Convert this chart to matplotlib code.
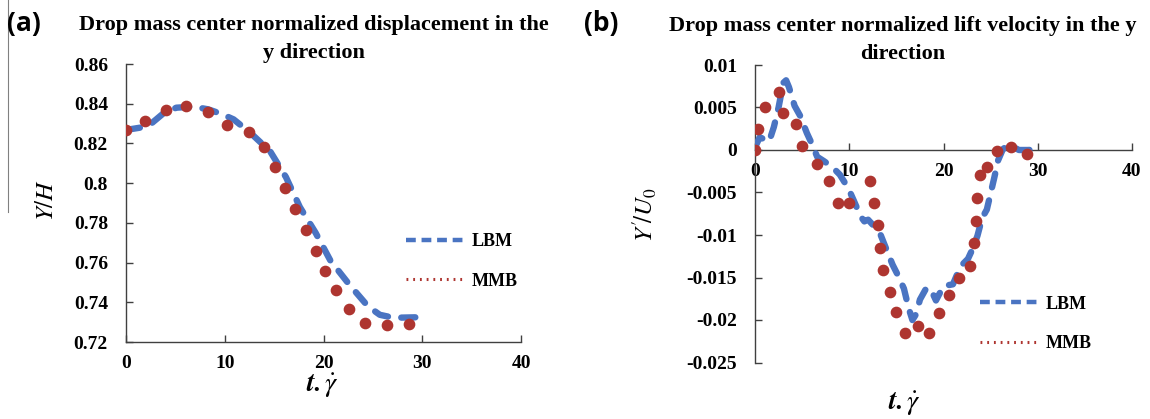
import matplotlib
matplotlib.use("Agg")
import matplotlib.pyplot as plt
from matplotlib.ticker import FormatStrFormatter
from matplotlib.lines import Line2D

plt.rcParams['axes.unicode_minus'] = False
plt.rcParams['mathtext.fontset'] = 'stix'

# ---------------- data ----------------
# Panel (a): normalized displacement Y/H
a_lbm_t = [0, 1.5, 2.6, 3.8, 5.1, 6.8, 8.3, 9.7, 10.9, 12.6, 14.6, 16.2, 17.6, 19.2, 20.7, 22.6, 24.5, 25.7, 27.1, 30]
a_lbm_y = [0.8268, 0.828, 0.8302, 0.8352, 0.838, 0.8385, 0.8372, 0.8348, 0.8321, 0.8253, 0.816, 0.803, 0.788, 0.775,
           0.761, 0.749, 0.738, 0.7337, 0.7322, 0.7325]
a_mmb_t = [0, 1.9, 4.0, 6.1, 8.3, 10.2, 12.5, 14.0, 15.1, 16.1, 17.1, 18.2, 19.2, 20.2, 21.3, 22.6, 24.2, 26.4, 28.7]
a_mmb_y = [0.827, 0.8315, 0.837, 0.8386, 0.836, 0.8293, 0.826, 0.818, 0.808, 0.7975, 0.787, 0.7766, 0.766, 0.756,
           0.746, 0.7365, 0.7295, 0.7285, 0.729]

# Panel (b): normalized lift velocity Y'/U0
b_lbm_t = [0, 0.5, 1.5, 2.0, 2.5, 3.0, 3.3, 3.6, 4.2, 4.8, 5.5, 6.0, 6.6, 7.3, 8.2, 9.0, 9.9, 10.5, 11.2, 11.6,
           12.0, 12.5, 13.3, 13.8, 14.6, 15.1, 15.8, 16.3, 16.7, 17.1, 17.5, 18.2, 18.7, 19.2, 20.0, 21.0, 21.8,
           22.6, 23.1, 23.6, 24.1, 24.6, 25.0, 25.4, 25.8, 26.3, 26.9, 27.5, 28.0, 29.0, 30.0]
b_lbm_y = [0.0003, 0.0015, 0.001, 0.0027, 0.005, 0.0079, 0.0082, 0.0074, 0.0052, 0.004, 0.002, 0.0008, -0.0008,
           -0.0013, -0.002, -0.0029, -0.0045, -0.006, -0.0078, -0.0084, -0.0082, -0.0088, -0.0099, -0.0113,
           -0.0135, -0.0146, -0.0163, -0.0186, -0.0200, -0.0193, -0.0176, -0.0162, -0.0165, -0.0177, -0.016,
           -0.0158, -0.0137, -0.0128, -0.0116, -0.0101, -0.008, -0.007, -0.0051, -0.0032, -0.0012, 0.0001,
           0.0006, 0.0003, 0.0, 0.0, 0.0001]
b_mmb_t = [0, 0.35, 1.06, 2.5, 3.0, 4.4, 5.0, 6.6, 7.9, 8.8, 10.0, 12.2, 12.6, 13.0, 13.3, 13.6, 14.3, 15.0, 15.9,
           17.3, 18.5, 19.5, 20.6, 21.6, 22.8, 23.2, 23.4, 23.6, 23.9, 24.6, 25.7, 27.2, 28.9]
b_mmb_y = [0.0, 0.0025, 0.005, 0.0068, 0.0043, 0.0031, 0.0005, -0.0016, -0.0037, -0.0062, -0.0062, -0.0036,
           -0.0062, -0.0088, -0.0115, -0.0141, -0.0167, -0.0191, -0.0215, -0.0207, -0.0215, -0.0192, -0.0170,
           -0.0150, -0.0137, -0.0109, -0.0083, -0.0057, -0.0030, -0.0020, -0.0001, 0.0003, -0.0005]

x_ticks = [0, 10, 20, 30, 40]
a_y_ticks = [0.72, 0.74, 0.76, 0.78, 0.80, 0.82, 0.84, 0.86]
b_y_ticks = [-0.025, -0.02, -0.015, -0.01, -0.005, 0, 0.005, 0.01]

series_names = ["LBM", "MMB"]
title_a = ["Drop mass center normalized displacement in the", "y direction"]
title_b = ["Drop mass center normalized lift velocity in the y", "direction"]

# ---------------- style ----------------
W, H = 1150, 419
BLUE = "#4A74C2"
RED = "#AE3530"
SERIF = "Liberation Serif"
TICKFONT = dict(family="Liberation Serif", weight="bold", size=14)

fig = plt.figure(figsize=(W / 100, H / 100), dpi=100)


def fx(px):
    return px / W


def fy(py):
    return 1 - py / H


def style_axes(ax):
    for s in ("top", "right"):
        ax.spines[s].set_visible(False)
    for s in ("left", "bottom"):
        ax.spines[s].set_color("#404040")
        ax.spines[s].set_linewidth(1.0)
    ax.tick_params(direction="in", length=5, width=1.0, color="#404040")
    ax.tick_params(axis="y", pad=13)
    ax.tick_params(axis="x", pad=9)
    for lab in ax.get_xticklabels() + ax.get_yticklabels():
        lab.set_fontfamily(TICKFONT["family"])
        lab.set_fontweight(TICKFONT["weight"])
        lab.set_fontsize(TICKFONT["size"])


def draw(ax, lt, ly, mt, my):
    ax.plot(lt, ly, color=BLUE, lw=4.6, dashes=(2.2, 2.1), dash_capstyle="round",
            solid_capstyle="round", label=series_names[0], zorder=3)
    ax.plot(mt, my, linestyle="none", marker="o", ms=7.4, color=RED, mec=RED,
            label=series_names[1], zorder=4)


def style_legend(ax, loc):
    leg = ax.legend(loc="center", bbox_to_anchor=loc, frameon=False, handlelength=3.3,
                    labelspacing=1.25, handletextpad=0.3,
                    prop=dict(family=SERIF, weight="bold", size=13))
    h0, h1 = leg.legend_handles
    h0.set_linewidth(3.2)
    h0.set_dashes((2.2, 1.3))
    h0.set_dash_capstyle("butt")
    h1.set_marker("")
    h1.set_linestyle((0, (0.6, 1.6)))
    h1.set_linewidth(2.2)
    h1.set_color(RED)
    return leg


# ---------------- panel (a) ----------------
axa = fig.add_axes([fx(126), fy(342), fx(521) - fx(126), fy(64) - fy(342)])
draw(axa, a_lbm_t, a_lbm_y, a_mmb_t, a_mmb_y)
axa.set_xlim(0, 40)
axa.set_ylim(0.72, 0.86)
axa.set_xticks(x_ticks)
axa.set_yticks(a_y_ticks)
axa.yaxis.set_major_formatter(FormatStrFormatter('%g'))
style_axes(axa)
style_legend(axa, (0.85, 0.29))

# ---------------- panel (b) ----------------
axb = fig.add_axes([fx(755), fy(362.5), fx(1132) - fx(755), fy(65) - fy(362.5)])
draw(axb, b_lbm_t, b_lbm_y, b_mmb_t, b_mmb_y)
axb.set_xlim(0, 40)
axb.set_ylim(-0.025, 0.01)
axb.set_xticks(x_ticks)
axb.set_yticks(b_y_ticks)
axb.yaxis.set_major_formatter(FormatStrFormatter('%g'))
axb.spines["bottom"].set_position(("data", 0))
style_axes(axb)
style_legend(axb, (0.745, 0.13))

# ---------------- texts ----------------
tkw = dict(family=SERIF, weight="bold", size=16, ha="center", va="center")
fig.text(fx(314), fy(25), title_a[0], **tkw)
fig.text(fx(314), fy(53), title_a[1], **tkw)
fig.text(fx(903), fy(26), title_b[0], **tkw)
fig.text(fx(903), fy(54), title_b[1], **tkw)

fig.text(fx(7), fy(23), "(a)", family="Open Sans", weight="bold", size=19, ha="left", va="center")
fig.text(fx(584), fy(23), "(b)", family="Open Sans", weight="bold", size=19, ha="left", va="center")

fig.text(fx(46), fy(200), r"$Y/H$", size=18, rotation=90, ha="center", va="center")
fig.text(fx(645), fy(215), r"$Y'\!/U_0$", size=18, rotation=90, ha="center", va="center")
xlab = r"$\mathbfit{t.}\dot{\gamma}$"
fig.text(fx(323), fy(386), xlab, size=20, ha="center", va="center")
fig.text(fx(905), fy(404), xlab, size=20, ha="center", va="center")

# thin border artifact at the left edge
fig.add_artist(Line2D([fx(8), fx(8)], [fy(0), fy(212)], color="#808080", lw=0.8))

fig.savefig("out.png", dpi=100)
